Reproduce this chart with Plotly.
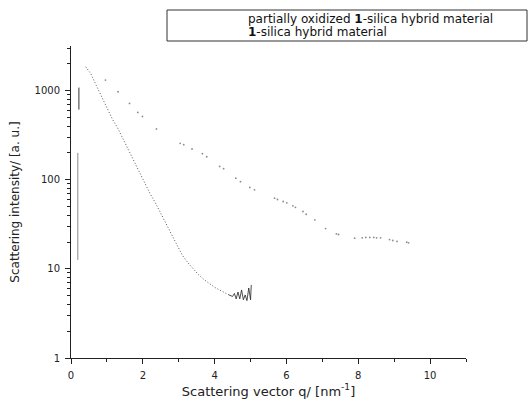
import plotly.graph_objects as go

# ---- data ----
# partially oxidized 1-silica hybrid material (sparse points)
q_ox = [0.96, 1.31, 1.63, 1.86, 1.99, 2.38, 3.04, 3.14, 3.37, 3.66, 3.78, 4.14, 4.25,
        4.59, 4.72, 4.98, 5.11, 5.67, 5.75, 5.91, 6.01, 6.18, 6.25, 6.46, 6.55, 6.79,
        7.09, 7.39, 7.45, 7.90, 8.11, 8.21, 8.32, 8.43, 8.51, 8.62, 8.87, 8.96, 9.08,
        9.35, 9.40]
i_ox = [1312, 970, 717, 569, 513, 371, 256, 247, 221, 196, 181, 141, 133,
        104, 95, 82, 77, 62, 60, 57, 55, 51, 49, 44, 41, 35.5,
        28.3, 24.7, 24.3, 22.1, 22.3, 22.5, 22.5, 22.5, 22.3, 22.3, 21.3, 20.8, 20.3,
        19.9, 19.6]

# 1-silica hybrid material
q_si = [0.41, 0.55, 0.70, 0.85, 1.00, 1.15, 1.30, 1.45, 1.60, 1.75, 1.90, 2.05, 2.20,
        2.35, 2.50, 2.65, 2.80, 2.95, 3.10, 3.25, 3.40, 3.55, 3.70, 3.85, 4.00, 4.10,
        4.20, 4.30, 4.40, 4.50, 4.55, 4.60, 4.65, 4.70, 4.75, 4.80, 4.85, 4.90, 4.95,
        5.00, 5.02]
i_si = [1850, 1550, 1150, 850, 640, 480, 380, 285, 215, 160, 122, 92, 70,
        55, 42, 32, 24, 18.5, 14.2, 11.8, 10.0, 8.6, 7.6, 6.8, 6.2, 5.9,
        5.6, 5.3, 5.1, 4.9, 5.3, 4.6, 5.5, 4.6, 5.8, 4.5, 5.1, 4.4, 6.1,
        4.5, 6.6]
tail_start = 28  # index where the noisy tail begins

# short vertical marks near the y axis
mark_dark_q = [0.22, 0.22]
mark_dark_i = [612, 1080]
mark_gray_q = [0.19, 0.19]
mark_gray_i = [12.6, 200]

x_ticks = [0, 2, 4, 6, 8, 10]
y_ticks = [1, 10, 100, 1000]
y_ticklabels = ["1", "10", "100", "1000"]

legend_labels = ["partially oxidized <b>1</b>-silica hybrid material",
                 "<b>1</b>-silica hybrid material"]

# ---- layout geometry (pixels) ----
W, H = 530, 410
L, R, T, B = 71, 64, 46, 52
PW, PH = W - L - R, H - T - B


def px_x(p):
    return (p - L) / PW


def px_y(p):
    return (H - B - p) / PH


FONT = "DejaVu Sans"
fig = go.Figure()

fig.add_trace(go.Scatter(x=q_si[:tail_start + 1], y=i_si[:tail_start + 1], mode="lines",
                         line=dict(color="#555555", width=1, dash="1px,2px"),
                         name=legend_labels[1], showlegend=False))
fig.add_trace(go.Scatter(x=q_si[tail_start:], y=i_si[tail_start:], mode="lines",
                         line=dict(color="#222222", width=0.8),
                         name=legend_labels[1], showlegend=False))
fig.add_trace(go.Scatter(x=q_ox, y=i_ox, mode="markers",
                         marker=dict(color="#8c8c8c", size=1.8, line=dict(width=0)),
                         name=legend_labels[0], showlegend=False))
fig.add_trace(go.Scatter(x=mark_dark_q, y=mark_dark_i, mode="lines",
                         line=dict(color="#333333", width=1), showlegend=False, hoverinfo="skip"))
fig.add_trace(go.Scatter(x=mark_gray_q, y=mark_gray_i, mode="lines",
                         line=dict(color="#8a8a8a", width=1), showlegend=False, hoverinfo="skip"))

# legend box drawn as shape + text
fig.add_shape(type="rect", xref="paper", yref="paper",
              x0=px_x(167), x1=px_x(527), y0=px_y(41), y1=px_y(10),
              line=dict(color="#333333", width=1), fillcolor="white", layer="above")
for txt, ypx in zip(legend_labels, [18.5, 32.5]):
    fig.add_annotation(text=txt, xref="paper", yref="paper", x=px_x(246), y=px_y(ypx),
                       xanchor="left", yanchor="middle", showarrow=False,
                       font=dict(family=FONT, size=12, color="#111111"))

fig.update_layout(
    width=W, height=H,
    margin=dict(l=L, r=R, t=T, b=B),
    paper_bgcolor="white", plot_bgcolor="white",
    showlegend=False,
    font=dict(family=FONT, color="#222222"),
)
fig.update_xaxes(
    range=[0, 11], tickvals=x_ticks, ticks="outside", ticklen=5, tickwidth=1,
    tickcolor="#222222", showline=True, linecolor="#222222", linewidth=1,
    showgrid=False, zeroline=False, tickfont=dict(size=10, family=FONT),
    ticklabelstandoff=3,
    minor=dict(dtick=1, ticks="outside", ticklen=3, tickcolor="#222222", showgrid=False),
    title=dict(text="Scattering vector q/ [nm<sup>-1</sup>]", font=dict(size=13, family=FONT),
               standoff=6),
)
fig.update_yaxes(
    type="log", range=[0, 3.5], tickvals=y_ticks, ticktext=y_ticklabels,
    ticks="outside", ticklen=5, tickwidth=1, tickcolor="#222222",
    showline=True, linecolor="#222222", linewidth=1, showgrid=False, zeroline=False,
    tickfont=dict(size=10, family=FONT), ticklabelstandoff=3,
    minor=dict(dtick="D1", ticks="outside", ticklen=3, tickcolor="#222222", showgrid=False),
    title=dict(text="Scattering intensity/ [a. u.]", font=dict(size=12, family=FONT),
               standoff=12),
)

fig.write_html("out.html", config={"displayModeBar": False},
               post_script="document.body.style.margin='0px';")
